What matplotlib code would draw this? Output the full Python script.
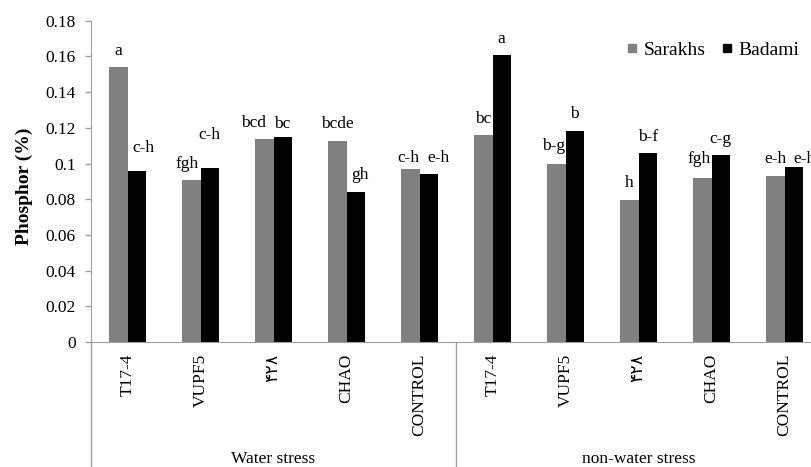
import numpy as np
import matplotlib
matplotlib.use('Agg')
import matplotlib.pyplot as plt
import matplotlib.transforms as mtransforms
from matplotlib.lines import Line2D

# categories
treatments = ['T17-4', 'VUPF5', '۴۲۸', 'CHAO', 'CONTROL']
conditions = ['Water stress', 'non-water stress']

# phosphor (%), water stress first then non-water stress
sarakhs = [0.154, 0.091, 0.1135, 0.1125, 0.097, 0.116, 0.100, 0.0795, 0.092, 0.093]
badami = [0.096, 0.0975, 0.115, 0.084, 0.094, 0.161, 0.118, 0.106, 0.105, 0.098]

sarakhs_letters = ['a', 'fgh', 'bcd', 'bcde', 'c-h', 'bc', 'b-g', 'h', 'fgh', 'e-h']
badami_letters = ['c-h', 'c-h', 'bc', 'gh', 'e-h', 'a', 'b', 'b-f', 'c-g', 'e-h']

# where the letters sit over their bars (pixels)
sarakhs_dx = [0, -4, -11, 0, -2, 0, -3, 0, -3, 0]
sarakhs_dy = [12, 12, 12, 13, 7, 12, 13, 13, 15, 13]
badami_dx = [7, 0, 0, 4, 10, 0, 0, 0, 0, 11]
badami_dy = [19, 29, 9, 13, 12, 12, 13, 12, 12, 4]

serif = ['Liberation Serif', 'DejaVu Sans']
plt.rcParams['font.family'] = serif
axis_grey = '#a0a0a0'

W, H = 811, 467
fig = plt.figure(figsize=(W / 100, H / 100), dpi=100)
x0, x1, y0, y1 = 91, 821, 342, 20.7
ax = fig.add_axes([x0 / W, (H - y0) / H, (x1 - x0) / W, (y0 - y1) / H])

labels = treatments * len(conditions)
x = np.arange(len(labels))
bw = 0.25
ax.bar(x - bw / 2, sarakhs, bw, color='#808080', label='Sarakhs')
ax.bar(x + bw / 2, badami, bw, color='black', label='Badami')

for i in range(len(labels)):
    ax.annotate(sarakhs_letters[i], (x[i] - bw / 2, sarakhs[i]),
                xytext=(sarakhs_dx[i], sarakhs_dy[i]), textcoords='offset pixels',
                ha='center', va='baseline', fontsize=12.5)
    ax.annotate(badami_letters[i], (x[i] + bw / 2, badami[i]),
                xytext=(badami_dx[i], badami_dy[i]), textcoords='offset pixels',
                ha='center', va='baseline', fontsize=12.5)

ax.set_xlim(-0.5, len(labels) - 0.5)
ax.set_ylim(0, 0.18)
yt = np.arange(0, 0.181, 0.02)
ax.set_yticks(yt)
ax.set_yticklabels(['%g' % round(v, 2) for v in yt])
ax.set_xticks(x)
ax.set_xticklabels(labels, rotation=90, va='top', ha='center')
ax.tick_params(axis='x', length=0, pad=8.5, labelsize=12.5)
ax.tick_params(axis='y', length=4, width=1, color=axis_grey, pad=7, labelsize=12.5)

for s in ['top', 'right']:
    ax.spines[s].set_visible(False)
for s in ['left', 'bottom']:
    ax.spines[s].set_color(axis_grey)

# group separators running down to the bottom edge
trans = mtransforms.blended_transform_factory(ax.transData, ax.transAxes)
bottom = -(H - y0) / (y0 - y1)
for gx in [-0.5, 4.5, 9.5]:
    ax.plot([gx, gx], [0, bottom], transform=trans, color=axis_grey,
            lw=1, clip_on=False)

glab_y = -(463 - y0) / (y0 - y1)
for g, name in enumerate(conditions):
    ax.text(g * len(treatments) + 2, glab_y, name, transform=trans,
            ha='center', va='baseline', fontsize=12.5)

ax.set_ylabel('Phosphor (%)', fontsize=14, fontweight='bold')
ax.yaxis.set_label_coords((33 - x0) / (x1 - x0), 0.485)

handles = [Line2D([], [], ls='', marker='s', markersize=6, color='#808080'),
           Line2D([], [], ls='', marker='s', markersize=6, color='black')]
fig.legend(handles, ['Sarakhs', 'Badami'], ncol=2, frameon=False,
           loc='center left', bbox_to_anchor=(626 / W, 1 - 50 / H),
           borderpad=0, borderaxespad=0, handlelength=0.6, handletextpad=0.3,
           columnspacing=0.8, fontsize=14)

fig.savefig('out.png', dpi=100)
